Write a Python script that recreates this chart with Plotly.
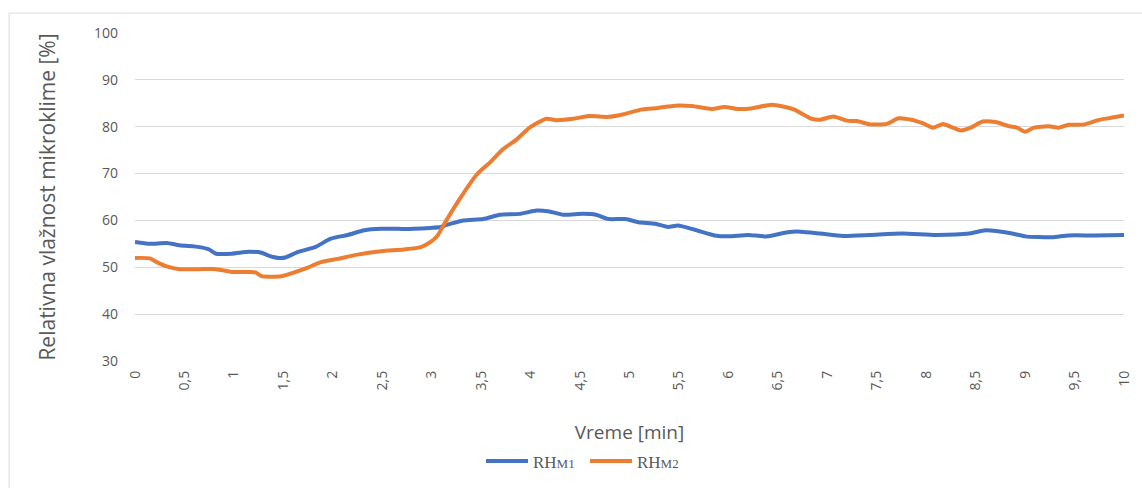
import plotly.graph_objects as go

t_m1 = [0, 0.15, 0.32, 0.45, 0.65, 0.75, 0.82, 0.98, 1.15, 1.28, 1.35, 1.45, 1.52, 1.65, 1.82, 1.98,
        2.15, 2.32, 2.49, 2.66, 2.82, 2.99, 3.09, 3.16, 3.32, 3.52, 3.69, 3.89, 4.06, 4.19, 4.33,
        4.53, 4.66, 4.79, 4.96, 5.09, 5.26, 5.39, 5.49, 5.66, 5.86, 6.0, 6.2, 6.39, 6.6, 6.73,
        6.93, 7.16, 7.43, 7.76, 8.1, 8.44, 8.6, 8.87, 9.0, 9.27, 9.44, 9.7, 10.0]
rh_m1 = [55.4, 55.0, 55.2, 54.7, 54.3, 53.8, 52.9, 52.9, 53.3, 53.1, 52.5, 52.0, 52.1, 53.3, 54.3, 56.1,
         56.9, 57.9, 58.2, 58.2, 58.2, 58.4, 58.6, 59.1, 60.0, 60.3, 61.2, 61.4, 62.1, 61.9, 61.2,
         61.4, 61.2, 60.3, 60.3, 59.6, 59.3, 58.6, 58.9, 58.0, 56.8, 56.6, 56.9, 56.6, 57.5, 57.6,
         57.2, 56.7, 56.9, 57.2, 56.9, 57.2, 57.9, 57.2, 56.6, 56.4, 56.8, 56.8, 56.9]

t_m2 = [0, 0.15, 0.22, 0.32, 0.45, 0.65, 0.82, 0.98, 1.15, 1.22, 1.28, 1.48, 1.58, 1.72, 1.88, 2.05,
        2.25, 2.49, 2.72, 2.89, 2.99, 3.06, 3.12, 3.29, 3.46, 3.59, 3.72, 3.86, 3.99, 4.16, 4.26,
        4.43, 4.59, 4.79, 4.93, 5.13, 5.29, 5.46, 5.63, 5.83, 5.96, 6.09, 6.23, 6.44, 6.66, 6.84,
        6.93, 7.06, 7.2, 7.3, 7.43, 7.6, 7.72, 7.85, 7.97, 8.07, 8.17, 8.27, 8.35, 8.45, 8.57,
        8.7, 8.84, 8.92, 9.0, 9.09, 9.24, 9.34, 9.44, 9.6, 9.74, 9.87, 10.0]
rh_m2 = [52.0, 51.9, 51.1, 50.2, 49.6, 49.6, 49.6, 49.0, 49.0, 48.9, 48.1, 48.1, 48.7, 49.7, 51.1, 51.8,
         52.7, 53.4, 53.8, 54.3, 55.4, 56.8, 59.0, 64.8, 69.9, 72.4, 75.2, 77.3, 79.8, 81.7, 81.4,
         81.7, 82.3, 82.1, 82.6, 83.7, 84.0, 84.5, 84.4, 83.8, 84.2, 83.8, 83.9, 84.7, 83.7, 81.7,
         81.5, 82.2, 81.3, 81.2, 80.5, 80.6, 81.8, 81.5, 80.7, 79.8, 80.6, 79.8, 79.2, 79.8, 81.1,
         81.0, 80.1, 79.8, 78.9, 79.8, 80.1, 79.8, 80.4, 80.5, 81.4, 81.9, 82.4]

x_ticks = [0, 0.5, 1, 1.5, 2, 2.5, 3, 3.5, 4, 4.5, 5, 5.5, 6, 6.5, 7, 7.5, 8, 8.5, 9, 9.5, 10]
x_tick_labels = [str(v).replace(".", ",") if v != int(v) else str(int(v)) for v in x_ticks]
y_ticks = [30, 40, 50, 60, 70, 80, 90, 100]

names = ["RH<span style='font-size:13px'>M1</span>", "RH<span style='font-size:13px'>M2</span>"]
colors = ["#4472C4", "#ED7D31"]

fig = go.Figure()
fig.add_trace(go.Scatter(x=t_m1, y=rh_m1, mode="lines", name=names[0],
                         line=dict(color=colors[0], width=4, shape="spline", smoothing=0.6)))
fig.add_trace(go.Scatter(x=t_m2, y=rh_m2, mode="lines", name=names[1],
                         line=dict(color=colors[1], width=4, shape="spline", smoothing=0.6)))

grey = "#595959"
fig.update_layout(
    width=1142, height=488,
    margin=dict(l=135, r=9, t=33, b=125),
    paper_bgcolor="white", plot_bgcolor="white",
    font=dict(family="Open Sans", color=grey, size=13),
    showlegend=True,
    legend=dict(orientation="h", x=0.455, xanchor="center", y=-0.306, yanchor="middle",
                font=dict(family="Liberation Serif", size=17, color=grey),
                itemwidth=42, entrywidth=47, entrywidthmode="pixels", tracegroupgap=0),
    shapes=[dict(type="rect", xref="paper", yref="paper", x0=-0.1273, x1=1.02, y0=-0.5, y1=1.0606,
                 line=dict(color="#d9d9d9", width=1), fillcolor="rgba(0,0,0,0)", layer="below")],
)
fig.update_xaxes(range=[0, 10], tickvals=x_ticks, ticktext=x_tick_labels, tickangle=-90,
                 showgrid=False, zeroline=False, showline=False, ticks="",
                 tickfont=dict(size=14, color=grey), ticklabelstandoff=6,
                 title=dict(text="Vreme [min]", font=dict(size=19, color=grey), standoff=36))
fig.update_yaxes(range=[30, 100], tickvals=y_ticks, showgrid=True, gridcolor="#d9d9d9",
                 gridwidth=1, zeroline=False, showline=False, ticks="",
                 tickfont=dict(size=14, color=grey), ticklabelstandoff=16,
                 title=dict(text="Relativna vlažnost mikroklime [%]", font=dict(size=21, color=grey),
                            standoff=32))

fig.write_html("out.html", config={"displayModeBar": False},
               post_script="document.body.style.margin='0px';")
